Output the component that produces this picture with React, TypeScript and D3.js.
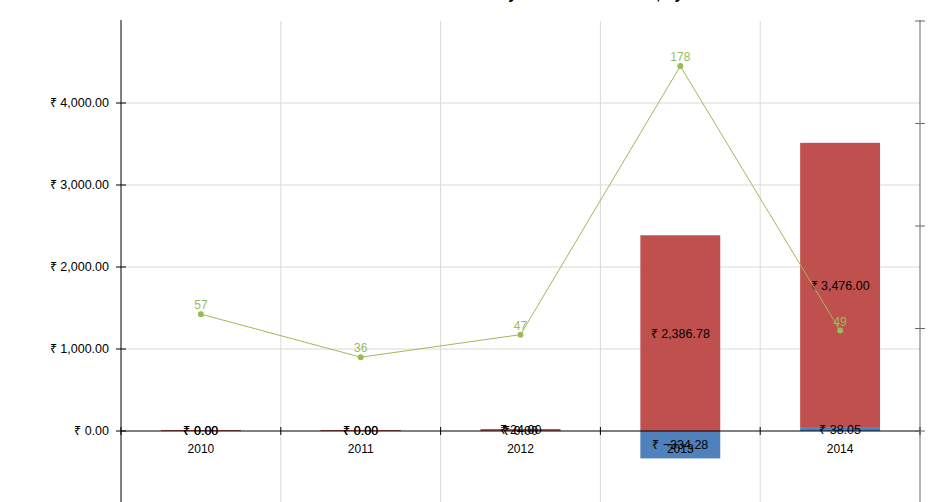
import React from 'react';
import * as d3 from 'd3';

const years = ['2010', '2011', '2012', '2013', '2014'];
const expenseValues = [0, 0, 24, 2386.78, 3476];
const incomeValues = [0, 0, 0, -334.28, 38.05];
const countValues = [57, 36, 47, 178, 49];
const leftTicks = [0, 1000, 2000, 3000, 4000];
const rightTicks = [0, 50, 100, 150, 200];

const WIDTH = 932;
const HEIGHT = 502;
const plot = { left: 121, right: 920, top: 21, bottom: 513 };

const RED = '#C0504D';
const BLUE = '#4F81BD';
const GREEN = '#9BBB59';
const FONT = 'Arial, "Liberation Sans", sans-serif';

const money = (v: number) => `₹ ${d3.format(',.2f')(v)}`;

const App: React.FC = () => {
  const x = d3.scaleBand<string>().domain(years).range([plot.left, plot.right]);
  const y = d3.scaleLinear().domain([-1000, 5000]).range([plot.bottom, plot.top]);
  const yRight = d3.scaleLinear().domain([-40, 200]).range([plot.bottom, plot.top]);

  const rows = years.map((yr, i) => ({ year: yr, income: incomeValues[i], expense: expenseValues[i] }));
  const stacked = d3.stack<any>()
    .keys(['income', 'expense'])
    .offset(d3.stackOffsetDiverging)(rows);
  const colors: Record<string, string> = { income: BLUE, expense: RED };

  const barW = x.bandwidth() / 2;
  const line = d3.line<number>()
    .x((_, i) => (x(years[i]) as number) + x.bandwidth() / 2)
    .y(d => yRight(d));

  const boundaries = years.map(yr => x(yr) as number).concat([plot.right]);

  return (
    <svg width={WIDTH} height={HEIGHT} style={{ position: 'absolute', left: 0, top: 0, fontFamily: FONT }}>
      {/* title sits mostly above the visible area, only its descenders show */}
      <text x={398} y={-1} fontSize={16} fontWeight="bold" fill="#000">
        Sales Summary of Orders &amp; Items, by Year
      </text>

      {/* grid */}
      {leftTicks.filter(t => t !== 0).map(t => (
        <line key={`h${t}`} x1={plot.left} x2={plot.right} y1={y(t)} y2={y(t)} stroke="#d9d9d9" />
      ))}
      {boundaries.slice(1, -1).map(b => (
        <line key={`v${b}`} x1={b} x2={b} y1={plot.top} y2={plot.bottom} stroke="#d9d9d9" />
      ))}

      {/* bars */}
      {stacked.map(series => series.map((d, i) => {
        const y0 = y(d[0]);
        const y1 = y(d[1]);
        const top = Math.min(y0, y1);
        const h = Math.max(Math.abs(y1 - y0), 1);
        return (
          <rect
            key={`${series.key}${i}`}
            x={(x(years[i]) as number) + barW / 2}
            y={h === 1 && y0 === y1 ? top - 1 : top}
            width={barW}
            height={h}
            fill={colors[series.key]}
          />
        );
      }))}

      {/* x axis */}
      <line x1={plot.left} x2={plot.right} y1={y(0)} y2={y(0)} stroke="#000" />
      {boundaries.map(b => (
        <line key={`xt${b}`} x1={b} x2={b} y1={y(0) - 4} y2={y(0) + 4} stroke="#000" />
      ))}
      {years.map(yr => (
        <text key={`xl${yr}`} x={(x(yr) as number) + x.bandwidth() / 2} y={y(0) + 22} textAnchor="middle" fontSize={12} fill="#000">
          {yr}
        </text>
      ))}

      {/* bar labels */}
      {stacked.map(series => series.map((d, i) => (
        <text
          key={`bl${series.key}${i}`}
          x={(x(years[i]) as number) + x.bandwidth() / 2}
          y={(y(d[0]) + y(d[1])) / 2}
          dy="0.35em"
          textAnchor="middle"
          fontSize={12.5}
          fill="#000"
        >
          {money(series.key === 'income' ? incomeValues[i] : expenseValues[i])}
        </text>
      )))}

      {/* left axis */}
      <line x1={plot.left} x2={plot.left} y1={plot.top - 1} y2={plot.bottom} stroke="#000" />
      {leftTicks.map(t => (
        <g key={`lt${t}`}>
          <line x1={plot.left - 5} x2={plot.left + 5} y1={y(t)} y2={y(t)} stroke="#000" />
          <text x={plot.left - 12} y={y(t)} dy="0.35em" textAnchor="end" fontSize={12.5} fill="#000">
            {money(t)}
          </text>
        </g>
      ))}

      {/* right axis */}
      <line x1={plot.right} x2={plot.right} y1={plot.top - 1} y2={plot.bottom} stroke="#666" />
      {rightTicks.map(t => (
        <line key={`rt${t}`} x1={plot.right - 5} x2={plot.right + 5} y1={yRight(t)} y2={yRight(t)} stroke="#666" />
      ))}

      {/* count line */}
      <path d={line(countValues) || ''} fill="none" stroke={GREEN} strokeWidth={1} />
      {countValues.map((v, i) => {
        const cx = (x(years[i]) as number) + x.bandwidth() / 2;
        return (
          <g key={`pt${i}`}>
            <circle cx={cx} cy={yRight(v)} r={3} fill={GREEN} />
            <text x={cx} y={yRight(v) - 5} textAnchor="middle" fontSize={12} fill={GREEN}>
              {v}
            </text>
          </g>
        );
      })}
    </svg>
  );
};

export default App;
